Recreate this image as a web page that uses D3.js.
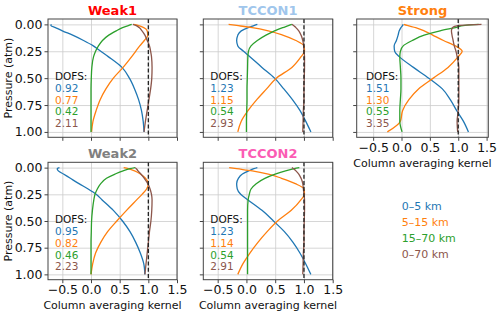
<!DOCTYPE html>
<html>
<head>
<meta charset="utf-8">
<script src="https://cdn.jsdelivr.net/npm/d3@7"></script>
<style>
  body { margin: 0; background: #fff; }
  text { font-family: "DejaVu Sans", sans-serif; }
</style>
</head>
<body>
<script>
var width = 500,
    height = 316;

// pressure levels (atm) shared by every profile
var pressure = [0, 0.01, 0.03, 0.06, 0.1, 0.15, 0.2, 0.25, 0.3, 0.4, 0.5, 0.6, 0.7, 0.8, 0.9, 1.0];

// order in each panel: 0-5 km, 5-15 km, 15-70 km, 0-70 km
var weak1 = [
  [-0.69, -0.70, -0.62, -0.50, -0.32, -0.13, 0.04, 0.17, 0.30, 0.54, 0.67, 0.76, 0.83, 0.88, 0.91, 0.925],
  [0.74, 0.82, 0.92, 0.98, 0.99, 0.93, 0.85, 0.78, 0.71, 0.56, 0.39, 0.26, 0.16, 0.09, 0.035, 0.01],
  [0.71, 0.66, 0.55, 0.44, 0.31, 0.20, 0.13, 0.08, 0.045, 0.015, 0.005, 0, 0, 0, 0, 0],
  [0.73, 0.78, 0.84, 0.89, 0.94, 0.98, 1.02, 1.04, 1.055, 1.065, 1.06, 1.04, 1.01, 0.98, 0.95, 0.925]
];
var tccon1 = [
  [0.19, 0.14, 0.03, -0.09, -0.15, -0.17, -0.15, -0.05, 0.06, 0.27, 0.49, 0.65, 0.80, 0.93, 1.03, 1.12],
  [-0.31, -0.17, 0.10, 0.38, 0.63, 0.86, 1.0, 1.01, 0.95, 0.79, 0.52, 0.35, 0.18, 0.03, -0.09, -0.15],
  [0.79, 0.74, 0.63, 0.49, 0.34, 0.19, 0.08, 0.035, 0.025, 0.02, 0.015, 0.01, 0.01, 0.005, 0.0, 0.0],
  [0.79, 0.82, 0.86, 0.91, 0.95, 0.98, 0.995, 1.0, 1.01, 1.01, 1.005, 1.0, 1.0, 0.99, 0.985, 0.98]
];
var strong = [
  [0.03, 0.02, -0.01, -0.04, -0.06, -0.09, -0.13, -0.12, -0.04, 0.21, 0.48, 0.72, 0.86, 0.97, 1.09, 1.18],
  [0.04, 0.10, 0.25, 0.40, 0.55, 0.74, 0.95, 1.07, 1.0, 0.82, 0.56, 0.30, 0.13, 0.02, -0.02, -0.25],
  [1.36, 1.12, 0.95, 0.68, 0.40, 0.19, 0.03, -0.02, -0.03, -0.02, -0.01, -0.01, -0.02, -0.03, -0.03, 0.01],
  [1.41, 1.02, 0.90, 0.88, 0.89, 0.91, 0.93, 0.96, 0.98, 1.01, 1.01, 1.01, 1.01, 1.0, 0.98, 0.99]
];
var weak2 = [
  [-0.55, -0.59, -0.57, -0.48, -0.36, -0.21, -0.05, 0.09, 0.19, 0.39, 0.55, 0.68, 0.78, 0.86, 0.92, 0.94],
  [0.57, 0.65, 0.76, 0.86, 0.95, 1.0, 0.97, 0.89, 0.80, 0.62, 0.45, 0.29, 0.17, 0.08, 0.03, 0.0],
  [0.77, 0.68, 0.56, 0.42, 0.27, 0.17, 0.11, 0.07, 0.05, 0.025, 0.01, 0.005, 0, 0, 0, 0],
  [0.77, 0.79, 0.82, 0.87, 0.93, 0.99, 1.03, 1.055, 1.065, 1.06, 1.045, 1.02, 1.0, 0.98, 0.96, 0.94]
];
var tccon2 = [
  [0.19, 0.13, 0.04, -0.07, -0.14, -0.17, -0.16, -0.10, 0.02, 0.27, 0.47, 0.66, 0.81, 0.93, 1.03, 1.12],
  [-0.30, -0.17, 0.10, 0.38, 0.61, 0.85, 1.0, 1.01, 0.95, 0.78, 0.54, 0.36, 0.20, 0.06, -0.06, -0.15],
  [0.92, 0.83, 0.68, 0.50, 0.32, 0.17, 0.08, 0.05, 0.03, 0.02, 0.02, 0.02, 0.02, 0.02, 0.02, 0.02],
  [0.79, 0.82, 0.86, 0.91, 0.95, 0.98, 0.99, 1.0, 1.01, 1.01, 1.005, 1.0, 1.0, 0.99, 0.985, 0.98]
];

var dofs = {
  weak1: ["0.92", "0.77", "0.42", "2.11"],
  tccon1: ["1.23", "1.15", "0.54", "2.93"],
  strong: ["1.51", "1.30", "0.55", "3.35"],
  weak2: ["0.95", "0.82", "0.46", "2.23"],
  tccon2: ["1.23", "1.14", "0.54", "2.91"]
};

var seriesNames = ["0\u20135 km", "5\u201315 km", "15\u201370 km", "0\u201370 km"];
var colors = ["#1f77b4", "#ff7f0e", "#2ca02c", "#8c564b"];
var xTicks = [-0.5, 0, 0.5, 1, 1.5];
var yTicks = [0, 0.25, 0.5, 0.75, 1];

// panel boxes
var panels = [
  {key: "weak1", title: "Weak1", color: "#ff0000", x0: 48, x1: 177, y0: 19, y1: 137.3, xd: [-0.75, 1.5], ylab: true, xlab: false, data: weak1},
  {key: "tccon1", title: "TCCON1", color: "#a0c6ec", x0: 203.3, x1: 332.7, y0: 19, y1: 137.3, xd: [-0.75, 1.5], ylab: false, xlab: false, data: tccon1},
  {key: "strong", title: "Strong", color: "#ff7f0e", x0: 356.7, x1: 488.3, y0: 19, y1: 137.3, xd: [-0.79, 1.53], ylab: false, xlab: true, data: strong},
  {key: "weak2", title: "Weak2", color: "#808080", x0: 48, x1: 177, y0: 162.3, y1: 279.7, xd: [-0.75, 1.5], ylab: true, xlab: true, data: weak2},
  {key: "tccon2", title: "TCCON2", color: "#fb5cb4", x0: 203.3, x1: 332.7, y0: 162.3, y1: 279.7, xd: [-0.75, 1.5], ylab: false, xlab: true, data: tccon2}
];

var svg = d3.select("body").append("svg")
    .attr("width", width)
    .attr("height", height);

panels.forEach(function(p) {
  var w = p.x1 - p.x0,
      h = p.y1 - p.y0;

  var x = d3.scaleLinear().domain(p.xd).range([0, w]);
  var y = d3.scaleLinear().domain([-0.05, 1.05]).range([0, h]);

  var g = svg.append("g")
    .attr("transform", "translate(" + p.x0 + "," + p.y0 + ")");

  // grid
  g.append("g")
    .attr("transform", "translate(0," + h + ")")
    .call(d3.axisBottom(x).tickValues(xTicks).tickSize(-h).tickFormat(""))
    .call(function(s) {
      s.select(".domain").remove();
      s.selectAll("line").attr("stroke", "#cccccc").attr("stroke-width", 0.8);
    });
  g.append("g")
    .call(d3.axisLeft(y).tickValues(yTicks).tickSize(-w).tickFormat(""))
    .call(function(s) {
      s.select(".domain").remove();
      s.selectAll("line").attr("stroke", "#cccccc").attr("stroke-width", 0.8);
    });

  var line = d3.line()
    .x(function(d) { return x(d[0]); })
    .y(function(d) { return y(d[1]); })
    .curve(d3.curveMonotoneY);

  p.data.forEach(function(vals, i) {
    var pts = vals.map(function(v, j) { return [v, pressure[j]]; });
    g.append("path")
      .datum(pts)
      .attr("fill", "none")
      .attr("stroke", colors[i])
      .attr("stroke-width", 1.3)
      .attr("d", line);
  });

  // x = 1 reference
  g.append("line")
    .attr("x1", x(1)).attr("x2", x(1))
    .attr("y1", 0).attr("y2", h)
    .attr("stroke", "#222")
    .attr("stroke-width", 1.3)
    .attr("stroke-dasharray", "4,2.2");

  // axes
  var xAxis = g.append("g")
    .attr("transform", "translate(0," + h + ")")
    .call(d3.axisBottom(x).tickValues(xTicks).tickSize(3.5).tickPadding(2)
      .tickFormat(p.xlab ? d3.format(".1f") : ""));
  var yAxis = g.append("g")
    .call(d3.axisLeft(y).tickValues(yTicks).tickSize(3.5).tickPadding(2)
      .tickFormat(p.ylab ? d3.format(".2f") : ""));
  [xAxis, yAxis].forEach(function(a) {
    a.select(".domain").remove();
    a.selectAll("line").attr("stroke", "#444");
    a.selectAll("text").attr("fill", "#111").style("font-size", "12.5px")
      .style("font-family", "DejaVu Sans");
  });

  g.append("rect")
    .attr("width", w).attr("height", h)
    .attr("fill", "none")
    .attr("stroke", "#444")
    .attr("stroke-width", 1);

  // title
  g.append("text")
    .attr("x", w / 2).attr("y", -4)
    .attr("text-anchor", "middle")
    .attr("fill", p.color)
    .style("font-weight", "bold")
    .style("font-size", "13px")
    .text(p.title);

  if (p.xlab) {
    g.append("text")
      .attr("x", w / 2).attr("y", h + 29.5)
      .attr("text-anchor", "middle")
      .attr("fill", "#111")
      .style("font-size", "11px")
      .text("Column averaging kernel");
  }
  if (p.ylab) {
    g.append("text")
      .attr("transform", "translate(" + (-36) + "," + (h / 2) + ") rotate(-90)")
      .attr("text-anchor", "middle")
      .attr("fill", "#111")
      .style("font-size", "11px")
      .text("Pressure (atm)");
  }

  // DOFS block
  var tx = p.key == "strong" ? 9.3 : 7;
  g.append("text")
    .attr("x", tx).attr("y", 61)
    .attr("fill", "#111")
    .style("font-size", "10.5px")
    .text("DOFS:");
  dofs[p.key].forEach(function(v, i) {
    g.append("text")
      .attr("x", tx).attr("y", 61 + 11.8 * (i + 1))
      .attr("fill", colors[i])
      .style("font-size", "10.5px")
      .text(v);
  });
});

// legend as coloured text
svg.append("g").selectAll("text")
  .data(seriesNames)
  .enter().append("text")
  .attr("x", 401.7)
  .attr("y", function(d, i) { return 210 + i * 16; })
  .attr("fill", function(d, i) { return colors[i]; })
  .style("font-size", "11px")
  .text(function(d) { return d; });
</script>
</body>
</html>
